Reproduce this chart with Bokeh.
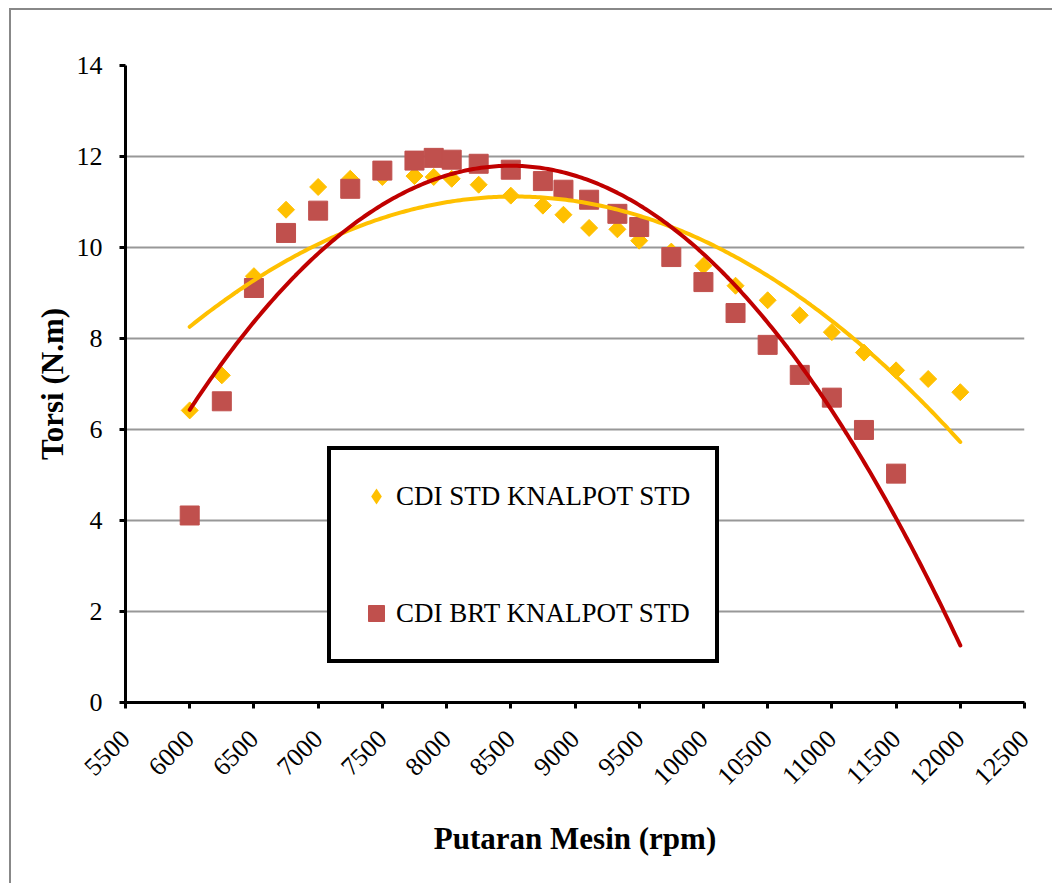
import numpy as np
from bokeh.plotting import figure
from bokeh.models import Legend, LegendItem, FixedTicker, Range1d
from bokeh.embed import file_html
from bokeh.resources import INLINE

# ---- data ----
rpm_std = [6000, 6250, 6500, 6750, 7000, 7250, 7500, 7750, 7900, 8040, 8250, 8500,
           8750, 8910, 9110, 9330, 9500, 9750, 10000, 10250, 10500, 10750, 11000,
           11250, 11500, 11750, 12000]
torsi_std = [6.42, 7.19, 9.37, 10.83, 11.33, 11.51, 11.55, 11.57, 11.55, 11.51, 11.38, 11.14,
             10.92, 10.72, 10.43, 10.40, 10.15, 9.91, 9.60, 9.16, 8.84, 8.51, 8.14,
             7.69, 7.30, 7.11, 6.82]

rpm_brt = [6000, 6250, 6500, 6750, 7000, 7250, 7500, 7750, 7900, 8040, 8250, 8500,
           8750, 8910, 9110, 9330, 9500, 9750, 10000, 10250, 10500, 10750, 11000,
           11250, 11500]
torsi_brt = [4.11, 6.62, 9.11, 10.32, 10.81, 11.29, 11.69, 11.91, 11.97, 11.93, 11.84, 11.71,
             11.46, 11.27, 11.05, 10.74, 10.45, 9.79, 9.24, 8.56, 7.86, 7.20, 6.70,
             5.99, 5.03]

x_ticks = list(range(5500, 12501, 500))
y_ticks = list(range(0, 15, 2))
trend_range = (6000, 12000)

label_std = "CDI STD KNALPOT STD"
label_brt = "CDI BRT KNALPOT STD"

FONT = "Liberation Serif"
YELLOW = "#FFC000"
RED_MARK = "#C0504D"
RED_LINE = "#C00000"

# polynomial (order 2) trendlines, like the spreadsheet's
tx = np.linspace(trend_range[0], trend_range[1], 300)
ty_std = np.polyval(np.polyfit(rpm_std, torsi_std, 2), tx)
ty_brt = np.polyval(np.polyfit(rpm_brt, torsi_brt, 2), tx)

p = figure(width=1043, height=875,
           x_range=Range1d(5500, 12500), y_range=Range1d(0, 14),
           output_backend="svg", toolbar_location=None,
           min_border_left=114, min_border_right=30,
           min_border_top=55, min_border_bottom=183)
p.margin = (8, 0, 0, 9)
p.styles = {"border-left": "2px solid #888888", "border-top": "2px solid #888888"}
p.outline_line_color = None
p.background_fill_color = "white"
p.border_fill_color = "white"

p.xgrid.visible = False
p.ygrid.ticker = FixedTicker(ticks=y_ticks)
p.ygrid.grid_line_color = "#989898"
p.ygrid.grid_line_width = 2

for ax in (p.xaxis[0], p.yaxis[0]):
    ax.axis_line_width = 3
    ax.axis_line_color = "black"
    ax.major_tick_line_width = 3
    ax.major_tick_line_color = "black"
    ax.major_tick_out = 6
    ax.major_tick_in = 0
    ax.minor_tick_line_color = None
    ax.major_label_text_font = FONT
    ax.major_label_text_font_size = "26px"
    ax.major_label_text_color = "black"
    ax.axis_label_text_font = FONT
    ax.axis_label_text_font_style = "bold"
    ax.axis_label_text_color = "black"
    ax.axis_label_text_font_size = "31px"

p.xaxis.ticker = FixedTicker(ticks=x_ticks)
p.yaxis.ticker = FixedTicker(ticks=y_ticks)
p.xaxis.major_label_orientation = np.pi / 4
p.xaxis.major_label_standoff = 26
p.yaxis.major_label_standoff = 17
p.xaxis.axis_label = "Putaran Mesin (rpm)"
p.yaxis.axis_label = "Torsi (N.m)"
p.xaxis.axis_label_standoff = 26
p.yaxis.axis_label_standoff = 4

r_std = p.scatter(rpm_std, torsi_std, marker="square", angle=np.pi / 4, size=12,
                  fill_color=YELLOW, line_color=YELLOW)
r_brt = p.scatter(rpm_brt, torsi_brt, marker="square", size=19,
                  fill_color=RED_MARK, line_color=RED_MARK)
p.line(tx, ty_std, line_color=YELLOW, line_width=4, line_cap="round")
p.line(tx, ty_brt, line_color=RED_LINE, line_width=4, line_cap="round")

# legend-only proxy for the diamond symbol (zero size in the plot itself)
proxy_std = p.scatter(rpm_std, torsi_std, marker="diamond", size=0,
                      fill_color=YELLOW, line_color=None)

legend = Legend(items=[LegendItem(label=label_std, renderers=[proxy_std]),
                       LegendItem(label=label_brt, renderers=[r_brt])],
                location=(202, 39))
legend.border_line_color = "black"
legend.border_line_alpha = 1
legend.border_line_width = 4
legend.background_fill_color = "white"
legend.background_fill_alpha = 1
legend.label_text_font = FONT
legend.label_text_font_size = "27px"
legend.label_text_color = "black"
legend.glyph_width = 40
legend.glyph_height = 42
legend.padding = 25
legend.spacing = 75
legend.label_standoff = 0
legend.margin = 0
p.add_layout(legend)

open("out.html", "w").write(file_html(p, INLINE))
